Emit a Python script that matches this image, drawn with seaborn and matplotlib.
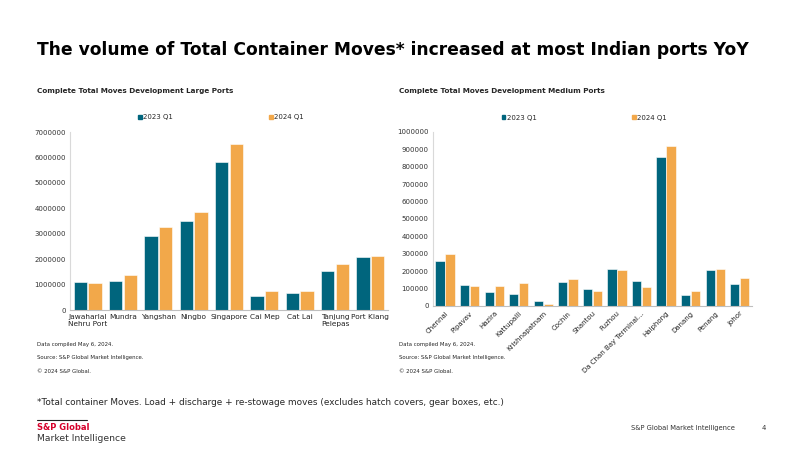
import numpy as np
import pandas as pd
import seaborn as sns
import matplotlib.pyplot as plt
from matplotlib.patches import Patch

# Datos
large_ports = ["Jawaharlal\nNehru Port", "Mundra", "Yangshan", "Ningbo", "Singapore",
               "Cai Mep", "Cat Lai", "Tanjung\nPelepas", "Port Klang"]
large_2023 = [1086000, 1150000, 2920000, 3520000, 5820000, 540000, 680000, 1540000, 2090000]
large_2024 = [1060000, 1360000, 3250000, 3870000, 6530000, 730000, 730000, 1830000, 2120000]

medium_ports = ["Chennai", "Pipavav", "Hazira", "Kattupalli", "Krishnapatnam", "Cochin",
                "Shantou", "Fuzhou", "Da Chan Bay Terminal…", "Haiphong", "Danang",
                "Penang", "Johor"]
medium_2023 = [261000, 121000, 81000, 67000, 27000, 136000, 98000, 213000, 145000,
               856000, 61000, 209000, 129000]
medium_2024 = [301000, 117000, 115000, 131000, 12000, 157000, 88000, 207000, 108000,
               919000, 86000, 213000, 159000]

series = ["2023 Q1", "2024 Q1"]
colores = ["#00657D", "#F2A84A"]


def tabla(ports, a, b):
    return pd.DataFrame({
        "port": ports * 2,
        "moves": a + b,
        "serie": [series[0]] * len(ports) + [series[1]] * len(ports),
    })


if __name__ == "__main__":
    sns.set_theme(style="white")
    plt.rcParams["font.family"] = ["DejaVu Sans"]

    fig = plt.figure(figsize=(8, 4.5), dpi=100)
    ax1 = fig.add_axes([0.0875, 0.311, 0.3975, 0.3956])
    ax2 = fig.add_axes([0.541, 0.32, 0.399, 0.3867])

    for ax, df, lim, step in [
        (ax1, tabla(large_ports, large_2023, large_2024), 7000000, 1000000),
        (ax2, tabla(medium_ports, medium_2023, medium_2024), 1000000, 100000),
    ]:
        sns.barplot(data=df, x="port", y="moves", hue="serie", palette=colores,
                    saturation=1, width=0.82, gap=0.08, ax=ax, legend=False,
                    edgecolor="white", linewidth=0.4)
        ax.set_ylim(0, lim)
        ax.set_yticks(np.arange(0, lim + 1, step))
        ax.set_yticklabels([f"{int(v)}" for v in np.arange(0, lim + 1, step)],
                           fontsize=5, color="#333333")
        ax.set_xlabel("")
        ax.set_ylabel("")
        ax.set_xlim(-0.5, len(df) / 2 - 0.5)
        for s in ["top", "right"]:
            ax.spines[s].set_visible(False)
        ax.spines["left"].set_color("#d9d9d9")
        ax.spines["bottom"].set_color("#bfbfbf")
        ax.spines["left"].set_linewidth(0.8)
        ax.spines["bottom"].set_linewidth(0.8)
        ax.tick_params(axis="both", length=0, pad=3)
        handles = [Patch(color=c, label=l) for c, l in zip(colores, series)]
        ax.legend(handles=handles, ncol=2, loc="lower center",
                  bbox_to_anchor=(0.475, 1.03), frameon=False, fontsize=5,
                  handlelength=0.5, handleheight=0.5, handletextpad=0.2,
                  columnspacing=13.8)

    ax1.tick_params(axis="x", labelsize=5.3, colors="#222222")
    plt.setp(ax1.get_xticklabels(), linespacing=1.1)
    ax2.tick_params(axis="x", labelsize=5, colors="#222222")
    plt.setp(ax2.get_xticklabels(), rotation=45, ha="right", rotation_mode="anchor")

    # Textos
    fig.text(0.046, 0.888, "The volume of Total Container Moves* increased at most Indian ports YoY",
             fontsize=12.3, fontweight="bold", color="black", va="center")
    fig.text(0.046, 0.798, "Complete Total Moves Development Large Ports",
             fontsize=5.2, fontweight="bold", va="center")
    fig.text(0.499, 0.798, "Complete Total Moves Development Medium Ports",
             fontsize=5.2, fontweight="bold", va="center")

    for x in [0.046, 0.499]:
        fig.text(x, 0.234, "Data compiled May 6, 2024.", fontsize=3.9, va="center")
        fig.text(x, 0.205, "Source: S&P Global Market Intelligence.", fontsize=3.9, va="center")
        fig.text(x, 0.174, "© 2024 S&P Global.", fontsize=3.9, va="center")

    fig.text(0.046, 0.105,
             "*Total container Moves. Load + discharge + re-stowage moves (excludes hatch covers, gear boxes, etc.)",
             fontsize=6.4, va="center")

    fig.add_artist(plt.Line2D([0.046, 0.109], [0.067, 0.067], color="#222222", lw=0.8))
    fig.text(0.046, 0.051, "S&P Global", fontsize=6, fontweight="bold", color="#D6002A",
             va="center")
    fig.text(0.046, 0.026, "Market Intelligence", fontsize=6.7, color="#333333", va="center")
    fig.text(0.789, 0.049, "S&P Global Market Intelligence", fontsize=4.9, color="#333333",
             va="center")
    fig.text(0.952, 0.049, "4", fontsize=4.9, color="#333333", va="center")

    plt.savefig("out.png", dpi=100)
